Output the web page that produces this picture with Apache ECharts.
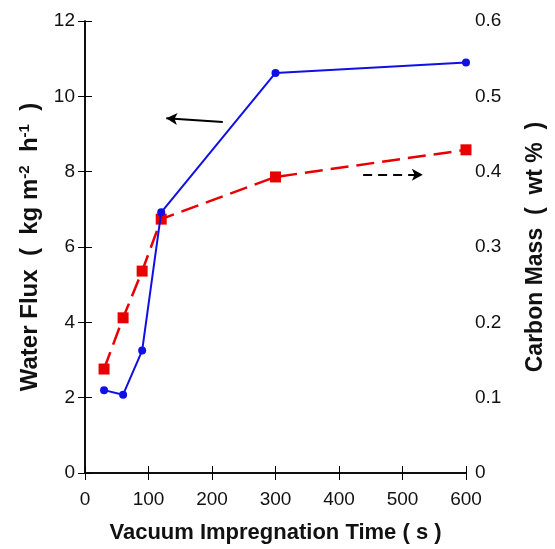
<!DOCTYPE html>
<html>
<head>
<meta charset="utf-8">
<script src="https://cdn.jsdelivr.net/npm/echarts@6/dist/echarts.min.js"></script>
<style>html,body{margin:0;padding:0;background:#fff;}#c{width:555px;height:549px;}</style>
</head>
<body>
<div id="c"></div>
<script>
// Data
var times = [30, 60, 90, 120, 300, 600];
var waterFlux = [2.2, 2.08, 3.25, 6.92, 10.62, 10.9];
var carbonMass = [0.138, 0.206, 0.268, 0.337, 0.393, 0.429];
var xTicks = [0, 100, 200, 300, 400, 500, 600];
var leftTicks = [0, 2, 4, 6, 8, 10, 12];
var rightTicks = [0, 0.1, 0.2, 0.3, 0.4, 0.5, 0.6];
// annotation arrows (data coordinates): [fromX, fromY, toX, toY]
var fluxArrow = [217, 9.32, 128, 9.42];
var carbonArrow = [438, 0.396, 532, 0.396];

var font = 'Liberation Sans, Arial, sans-serif';
var chart = echarts.init(document.getElementById('c'), null, {renderer: 'canvas'});

function pairs(xs, ys) { return xs.map(function (x, i) { return [x, ys[i]]; }); }

var option = {
  animation: false,
  backgroundColor: '#fff',
  grid: {left: 85, right: 72, top: 21, bottom: 66, containLabel: false},
  xAxis: [{
    type: 'value', position: 'bottom',
    min: xTicks[0], max: xTicks[xTicks.length - 1], interval: 100,
    axisLine: {show: true, lineStyle: {color: '#000', width: 1.5}},
    axisTick: {show: true, inside: true, length: 7, lineStyle: {color: '#000', width: 1}},
    axisLabel: {fontFamily: font, fontSize: 19, color: '#111', margin: 17},
    splitLine: {show: false},
    name: 'Vacuum Impregnation Time ( s )', nameLocation: 'middle', nameGap: 49,
    nameTextStyle: {fontFamily: font, fontSize: 22, fontWeight: 'bold', color: '#111'}
  }, {
    type: 'value', position: 'top',
    min: xTicks[0], max: xTicks[xTicks.length - 1], interval: 100,
    axisLine: {show: true, lineStyle: {color: '#000', width: 1.5}},
    axisTick: {show: true, inside: true, length: 7, lineStyle: {color: '#000', width: 1}},
    axisLabel: {show: false}, splitLine: {show: false}
  }],
  yAxis: [{
    type: 'value', position: 'left',
    min: leftTicks[0], max: leftTicks[leftTicks.length - 1], interval: 2,
    axisLine: {show: true, lineStyle: {color: '#000', width: 1.5}},
    axisTick: {show: true, inside: true, length: 7, lineStyle: {color: '#000', width: 1}},
    axisLabel: {fontFamily: font, fontSize: 19, color: '#111', margin: 10},
    splitLine: {show: false},
    name: 'Water Flux  (  kg m{sup|-2}  h{sup|-1}  )', nameLocation: 'middle', nameGap: 42, nameRotate: 90,
    nameTextStyle: {
      fontFamily: font, fontSize: 24, fontWeight: 'bold', color: '#111',
      rich: {sup: {fontFamily: font, fontSize: 15, fontWeight: 'bold', color: '#111', verticalAlign: 'top', padding: [0, 0, 11, 0]}}
    }
  }, {
    type: 'value', position: 'right',
    min: rightTicks[0], max: rightTicks[rightTicks.length - 1], interval: 0.1,
    axisLine: {show: true, lineStyle: {color: '#000', width: 1.5}},
    axisTick: {show: true, inside: true, length: 7, lineStyle: {color: '#000', width: 1}},
    axisLabel: {fontFamily: font, fontSize: 19, color: '#111', margin: 9},
    splitLine: {show: false},
    name: 'Carbon Mass  (  wt %  )', nameLocation: 'middle', nameGap: 58, nameRotate: 90,
    nameTextStyle: {fontFamily: font, fontSize: 23, fontWeight: 'bold', color: '#111'}
  }],
  series: [{
    name: 'Water Flux', type: 'line', xAxisIndex: 0, yAxisIndex: 0,
    data: pairs(times, waterFlux),
    symbol: 'circle', symbolSize: 8, showSymbol: true,
    lineStyle: {color: '#1010e6', width: 2},
    itemStyle: {color: '#1010e6'},
    z: 3,
    markLine: {
      silent: true, symbol: ['none', 'arrow'], symbolSize: [9, 11],
      label: {show: false},
      lineStyle: {color: '#000', width: 2, type: 'solid'},
      data: [[{coord: [fluxArrow[0], fluxArrow[1]]}, {coord: [fluxArrow[2], fluxArrow[3]]}]]
    }
  }, {
    name: 'Carbon Mass', type: 'line', xAxisIndex: 0, yAxisIndex: 1,
    data: pairs(times, carbonMass),
    symbol: 'rect', symbolSize: 11, showSymbol: true,
    lineStyle: {color: '#e80000', width: 2.5, type: [18, 8]},
    itemStyle: {color: '#e80000'},
    z: 2,
    markLine: {
      silent: true, symbol: ['none', 'arrow'], symbolSize: [9, 11],
      label: {show: false},
      lineStyle: {color: '#000', width: 2, type: [9, 6]},
      data: [[{coord: [carbonArrow[0], carbonArrow[1]]}, {coord: [carbonArrow[2], carbonArrow[3]]}]]
    }
  }]
};
chart.setOption(option);
</script>
</body>
</html>
